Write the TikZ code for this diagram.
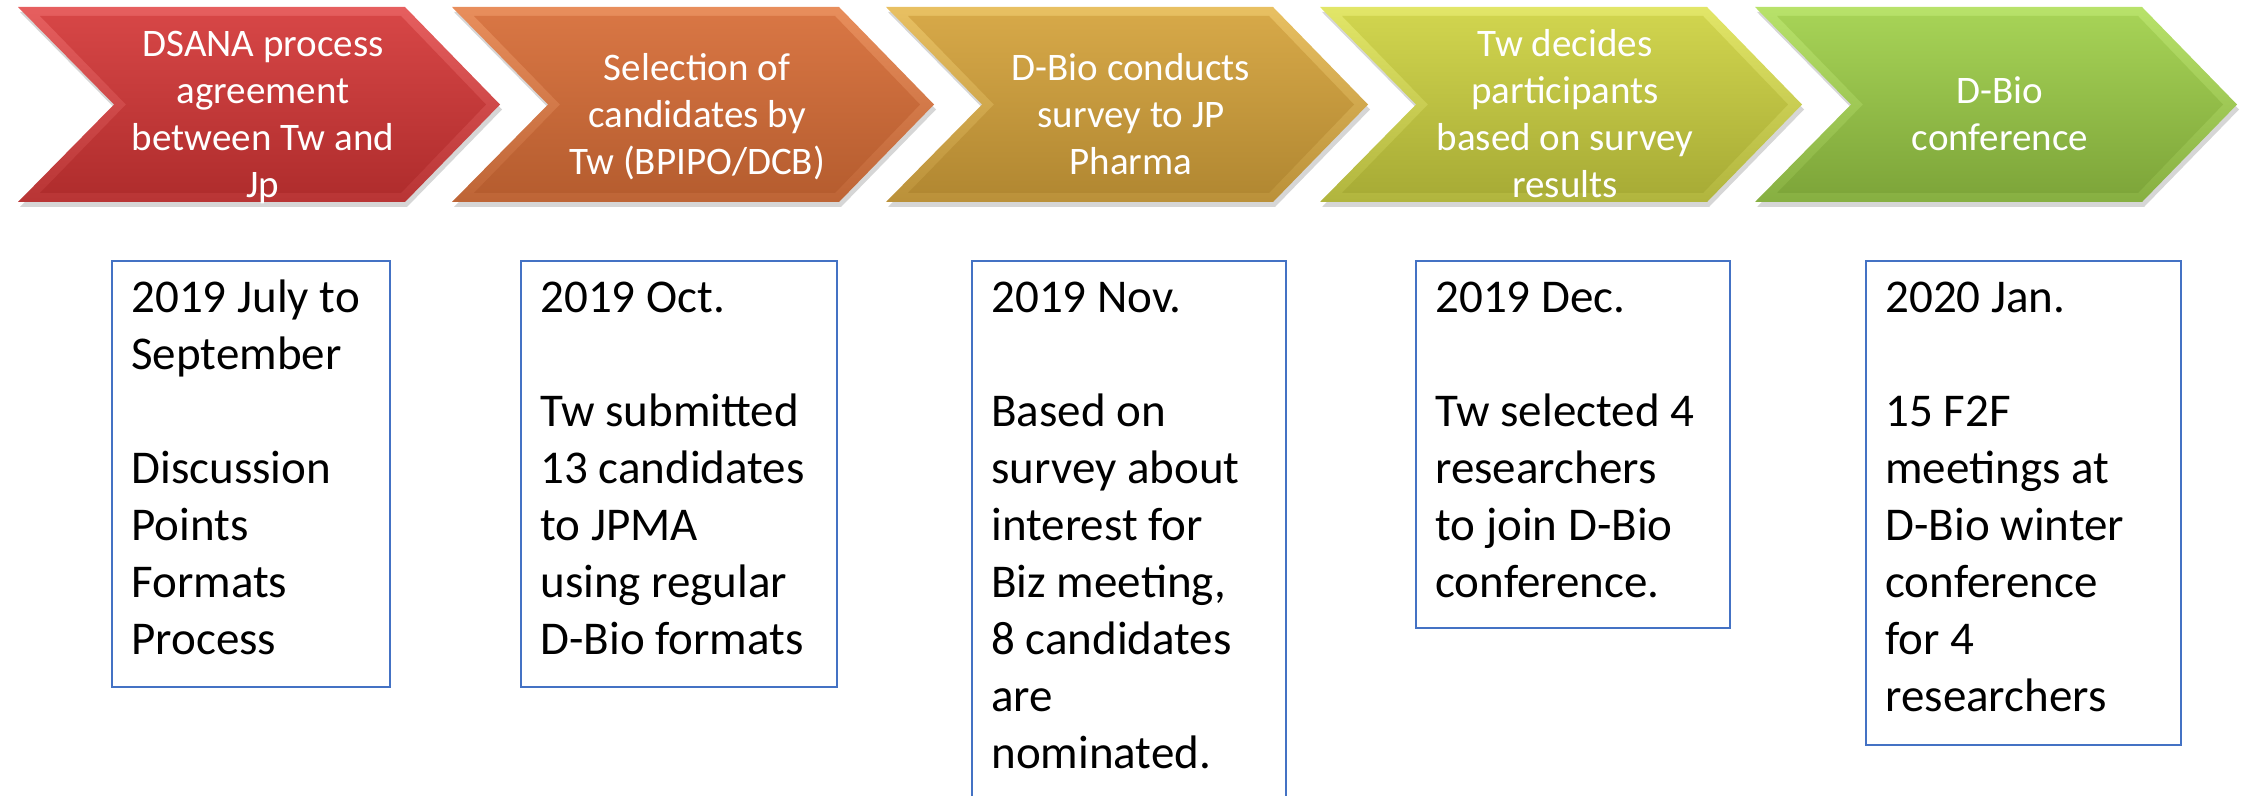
\documentclass[tikz,border=0pt]{standalone}
\usepackage{fontspec}
\setmainfont{Carlito}
\definecolor{boxblue}{RGB}{68,114,196}
\definecolor{ctopA}{RGB}{214,70,70}\definecolor{cbotA}{RGB}{176,45,45}\definecolor{cbevA}{RGB}{230,95,95}
\definecolor{ctopB}{RGB}{216,118,68}\definecolor{cbotB}{RGB}{182,93,47}\definecolor{cbevB}{RGB}{232,142,92}
\definecolor{ctopC}{RGB}{214,168,72}\definecolor{cbotC}{RGB}{178,136,50}\definecolor{cbevC}{RGB}{232,192,98}
\definecolor{ctopD}{RGB}{208,212,78}\definecolor{cbotD}{RGB}{168,172,54}\definecolor{cbevD}{RGB}{226,230,104}
\definecolor{ctopE}{RGB}{166,210,86}\definecolor{cbotE}{RGB}{126,166,58}\definecolor{cbevE}{RGB}{184,226,106}
\tikzset{
  chevtext/.style={text=white, align=center, inner sep=0pt, anchor=north,
    font=\fontsize{19.5pt}{23.5pt}\selectfont},
  boxframe/.style={draw=boxblue, line width=1pt, inner sep=0pt, anchor=north west},
  boxtext/.style={text=black, align=left, inner sep=0pt, anchor=north west,
    font=\fontsize{23.5pt}{28.5pt}\selectfont},
}
% #1 = x0, #2 = colour suffix
\newcommand\mychevshape[2]{%
  \fill[black,opacity=0.16] ({#1+2},12) -- ({#1+389},12) -- ({#1+484},109.5) -- ({#1+389},207) -- ({#1+2},207) -- ({#1+98},109.5) -- cycle;
  \shade[top color=cbev#2, bottom color=cbot#2!85!cbev#2] (#1,7) -- ({#1+387},7) -- ({#1+482},104.5) -- ({#1+387},202) -- (#1,202) -- ({#1+96},104.5) -- cycle;
  \shade[top color=ctop#2, bottom color=cbot#2] ({#1+22},16) -- ({#1+383},16) -- ({#1+468},104.5) -- ({#1+383},193) -- ({#1+22},193) -- ({#1+108},104.5) -- cycle;
}
\begin{document}
\begin{tikzpicture}[x=0.5pt,y=-0.5pt]
\useasboundingbox (0,0) rectangle (2242,796);
\clip (0,0) rectangle (2242,796);

% chevrons
\mychevshape{18}{A}
\mychevshape{452}{B}
\mychevshape{886}{C}
\mychevshape{1320}{D}
\mychevshape{1755}{E}

\node[chevtext] (c1) at (263,17.5) {\rule{0pt}{19.5pt}DSANA process\\agreement\\between Tw and\\Jp};
\node[chevtext] (c2) at (697,41) {\rule{0pt}{19.5pt}Selection of\\candidates by\\Tw (BPIPO/DCB)};
\node[chevtext] (c3) at (1131,41) {\rule{0pt}{19.5pt}D-Bio conducts\\survey to JP\\Pharma};
\node[chevtext] (c4) at (1565,17.5) {\rule{0pt}{19.5pt}Tw decides\\participants\\based on survey\\results};
\node[chevtext] (c5) at (2000,64.5) {\rule{0pt}{19.5pt}D-Bio\\conference};

% boxes
\node[boxframe, minimum width=139pt, minimum height=213pt] (b1) at (111,260) {};
\node[boxframe, minimum width=158pt, minimum height=213pt] (b2) at (520,260) {};
\node[boxframe, minimum width=157pt, minimum height=300pt] (b3) at (971,260) {};
\node[boxframe, minimum width=157pt, minimum height=183.5pt] (b4) at (1415,260) {};
\node[boxframe, minimum width=157.5pt, minimum height=242pt] (b5) at (1865,260) {};

\node[boxtext] (t1) at (131,265) {\rule{0pt}{23.5pt}2019 July to\\September\\[28.5pt]Discussion\\Points\\Formats\\Process};
\node[boxtext] (t2) at (540,265) {\rule{0pt}{23.5pt}2019 Oct.\\[28.5pt]Tw submitted\\13 candidates\\to JPMA\\using regular\\D-Bio formats};
\node[boxtext] (t3) at (991,265) {\rule{0pt}{23.5pt}2019 Nov.\\[28.5pt]Based on\\survey about\\interest for\\Biz meeting,\\8 candidates\\are\\nominated.};
\node[boxtext] (t4) at (1435,265) {\rule{0pt}{23.5pt}2019 Dec.\\[28.5pt]Tw selected 4\\researchers\\to join D-Bio\\conference.};
\node[boxtext] (t5) at (1885,265) {\rule{0pt}{23.5pt}2020 Jan.\\[28.5pt]15 F2F\\meetings at\\D-Bio winter\\conference\\for 4\\researchers};
\end{tikzpicture}
\end{document}
